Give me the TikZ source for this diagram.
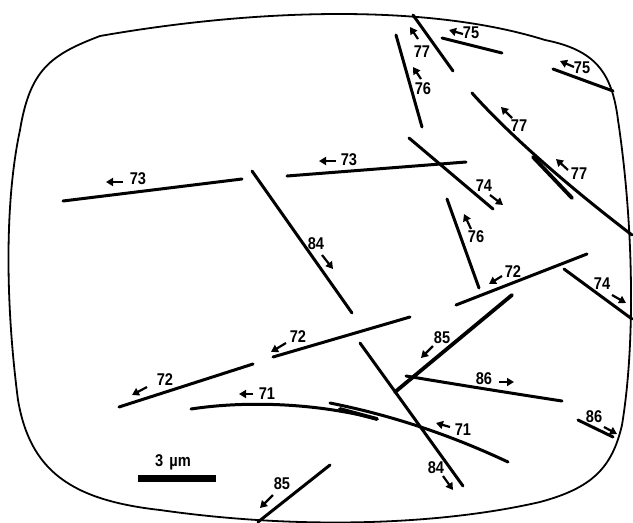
\documentclass[tikz,border=0pt]{standalone}
\usepackage{fontspec}
\setmainfont{Liberation Sans}
\newfontfamily\labfont[FakeStretch=0.86]{Liberation Sans}
\usetikzlibrary{arrows.meta}
\begin{document}
\begin{tikzpicture}[x=1pt,y=-1pt,
 track/.style={line width=3pt,line cap=round},
 heavy/.style={line width=3.8pt,line cap=round},
 frame/.style={line width=1.8pt},
 lab/.style={font=\labfont\fontsize{17}{17}\selectfont\bfseries,inner sep=0pt},
 arr/.style={line width=2.2pt,-{Triangle[length=7pt,width=8pt]}}]
\useasboundingbox (0,0) rectangle (633,523);
% screen frame
\draw[frame] (100,36) .. controls (260,8) and (430,4) .. (545,40)
  .. controls (595,50) and (612,72) .. (618,120)
  .. controls (633,220) and (636,340) .. (622,425)
  .. controls (612,468) and (592,488) .. (540,502)
  .. controls (440,525) and (300,530) .. (160,510)
  .. controls (70,500) and (30,470) .. (18,400)
  .. controls (5,300) and (5,200) .. (20,130)
  .. controls (30,70) and (50,55) .. (100,36) -- cycle;
% tracks
\draw[track] (396,35) -- (422,127);
\draw[track] (413,15) -- (453,71);
\draw[track] (442,38) -- (502,53);
\draw[track] (553,69) -- (613,91);
\draw[track] (472,93) .. controls (505,130) and (560,180) .. (632,235);
\draw[heavy] (533,157) -- (572,198);
\draw[track] (409,138) -- (493,209);
\draw[track] (287,176) -- (466,162);
\draw[track] (447,199) -- (479,288);
\draw[track] (63,201) -- (242,179);
\draw[track] (252,171) -- (352,313);
\draw[track] (273,357) -- (410,317);
\draw[track] (456,305) -- (587,254);
\draw[track] (564,269) -- (632,319);
\draw[heavy] (512,295) -- (395,392);
\draw[track] (406,376) .. controls (460,385) and (510,393) .. (562,401);
\draw[track] (578,420) -- (613,437);
\draw[track] (119,407) -- (253,364);
\draw[track] (191,409) .. controls (250,400) and (320,404) .. (377,419);
\draw[heavy] (340,409) -- (377,419);
\draw[track] (330,403) .. controls (380,413) and (440,430) .. (508,462);
\draw[track] (360,343) -- (463,486);
\draw[track] (330,465) -- (258,522);
% scale bar
\draw[line width=7pt] (138,478) -- (216,478);
\node[lab] (lsc) at (173,462) {3\hspace{6pt}µm};
% labels
\node[lab] (l77a) at (422,52) {77};
\node[lab] (l76a) at (423,89) {76};
\node[lab] (l75a) at (471,33) {75};
\node[lab] (l75b) at (582,68) {75};
\node[lab] (l77b) at (519,126) {77};
\node[lab] (l77c) at (579,174) {77};
\node[lab] (l74a) at (484,186) {74};
\node[lab] (l76b) at (476,237) {76};
\node[lab] (l73a) at (138,179) {73};
\node[lab] (l73b) at (349,160) {73};
\node[lab] (l84a) at (316,244) {84};
\node[lab] (l72a) at (298,337) {72};
\node[lab] (l72b) at (513,272) {72};
\node[lab] (l74b) at (602,284) {74};
\node[lab] (l85a) at (442,338) {85};
\node[lab] (l86a) at (484,379) {86};
\node[lab] (l86b) at (594,417) {86};
\node[lab] (l71b) at (463,430) {71};
\node[lab] (l84b) at (436,468) {84};
\node[lab] (l71a) at (267,394) {71};
\node[lab] (l72c) at (165,380) {72};
\node[lab] (l85b) at (282,484) {85};
% direction arrows
\draw[arr] (418,39) -- (410,27);
\draw[arr] (421,79) -- (413,67);
\draw[arr] (463,34) -- (449,30);
\draw[arr] (574,67) -- (560,61);
\draw[arr] (512,118) -- (501,107);
\draw[arr] (568,170) -- (556,159);
\draw[arr] (490,195) -- (503,205);
\draw[arr] (471,229) -- (464,214);
\draw[arr] (123,182) -- (106,182);
\draw[arr] (336,161) -- (319,161);
\draw[arr] (322,255) -- (333,269);
\draw[arr] (286,343) -- (271,352);
\draw[arr] (502,276) -- (489,284);
\draw[arr] (612,295) -- (626,303);
\draw[arr] (433,346) -- (421,358);
\draw[arr] (499,382) -- (514,382);
\draw[arr] (604,427) -- (617,434);
\draw[arr] (450,427) -- (436,423);
\draw[arr] (443,476) -- (453,490);
\draw[arr] (253,394) -- (239,394);
\draw[arr] (147,387) -- (132,395);
\draw[arr] (273,495) -- (260,508);
\end{tikzpicture}
\end{document}
